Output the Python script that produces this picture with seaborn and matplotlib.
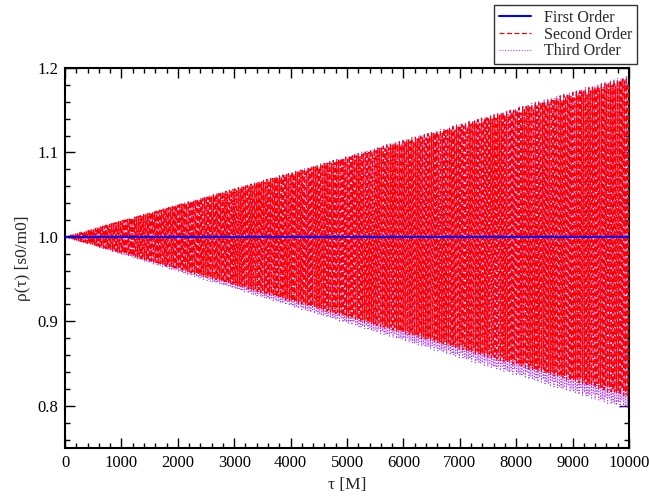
import numpy as np
import pandas as pd
import matplotlib
matplotlib.use("Agg")
import matplotlib.pyplot as plt
import seaborn as sns
from matplotlib.ticker import MultipleLocator

# Envelope of rho(tau) at selected proper times, per order of the expansion
tau_knots = [0, 2000, 4000, 6000, 8000, 10000]
first_level = [1.000, 1.000, 1.000, 1.000, 1.000, 1.000]
second_upper = [1.000, 1.038, 1.076, 1.114, 1.152, 1.190]
second_lower = [1.000, 0.962, 0.924, 0.886, 0.848, 0.810]
third_upper = [1.000, 1.038, 1.076, 1.115, 1.153, 1.192]
third_lower = [1.000, 0.959, 0.918, 0.877, 0.836, 0.795]
osc_period = 31.7      # oscillation period in M
sample_step = 3.0      # output cadence in M

x_ticks = [0, 1000, 2000, 3000, 4000, 5000, 6000, 7000, 8000, 9000, 10000]
y_ticks = [0.8, 0.9, 1.0, 1.1, 1.2]

tau = np.arange(0, 10000 + sample_step, sample_step)
phase = np.cos(2 * np.pi * tau / osc_period)


def oscillate(upper, lower):
    up = np.interp(tau, tau_knots, upper)
    lo = np.interp(tau, tau_knots, lower)
    return np.where(phase >= 0, 1 + (up - 1) * phase, 1 + (1 - lo) * phase)


df = pd.DataFrame({
    "tau": tau,
    "first": np.interp(tau, tau_knots, first_level),
    "second": oscillate(second_upper, second_lower),
    "third": oscillate(third_upper, third_lower),
})

sns.set_style("ticks")
plt.rcParams["font.family"] = ["Liberation Serif", "DejaVu Serif"]

fig = plt.figure(figsize=(6.49, 4.98), dpi=100)
ax = fig.add_axes([65 / 649, 1 - 448 / 498, (629 - 65) / 649, (448 - 68) / 498])

sns.lineplot(data=df, x="tau", y="third", ax=ax, color="#b040f0", lw=0.8,
             linestyle=(0, (1, 1.5)), label="Third Order", zorder=2)
sns.lineplot(data=df, x="tau", y="second", ax=ax, color="#ff0000", lw=0.9,
             linestyle=(0, (4, 2)), label="Second Order", zorder=3)
sns.lineplot(data=df, x="tau", y="first", ax=ax, color="#0000ff", lw=1.5,
             label="First Order", zorder=4)

ax.set_xlim(0, 10000)
ax.set_ylim(0.75, 1.2)
ax.set_xticks(x_ticks)
ax.set_yticks(y_ticks)
ax.set_xticklabels([str(t) for t in x_ticks])
ax.set_yticklabels([f"{t:.1f}" for t in y_ticks])
ax.xaxis.set_minor_locator(MultipleLocator(200))
ax.yaxis.set_minor_locator(MultipleLocator(0.02))
ax.tick_params(which="both", direction="in", top=True, right=True,
               labelsize=12, colors="black", width=1.0, pad=5)
ax.tick_params(which="major", length=7)
ax.tick_params(which="minor", length=3.5)
for s in ax.spines.values():
    s.set_linewidth(1.5)
    s.set_color("black")

ax.set_xlabel("τ [M]", fontsize=12.5)
ax.set_ylabel("ρ(τ) [s0/m0]", fontsize=12.5)

handles, labels = ax.get_legend_handles_labels()
order = [2, 1, 0]
leg = ax.legend([handles[i] for i in order], [labels[i] for i in order],
                loc="upper right", bbox_to_anchor=(637 / 649, 1 - 5 / 498),
                bbox_transform=fig.transFigure, fontsize=11.5, frameon=True,
                fancybox=False, edgecolor="black", borderpad=0.3,
                labelspacing=0.05, handlelength=2.0, borderaxespad=0)
leg.get_frame().set_linewidth(1.0)

fig.savefig("out.png", dpi=100)
